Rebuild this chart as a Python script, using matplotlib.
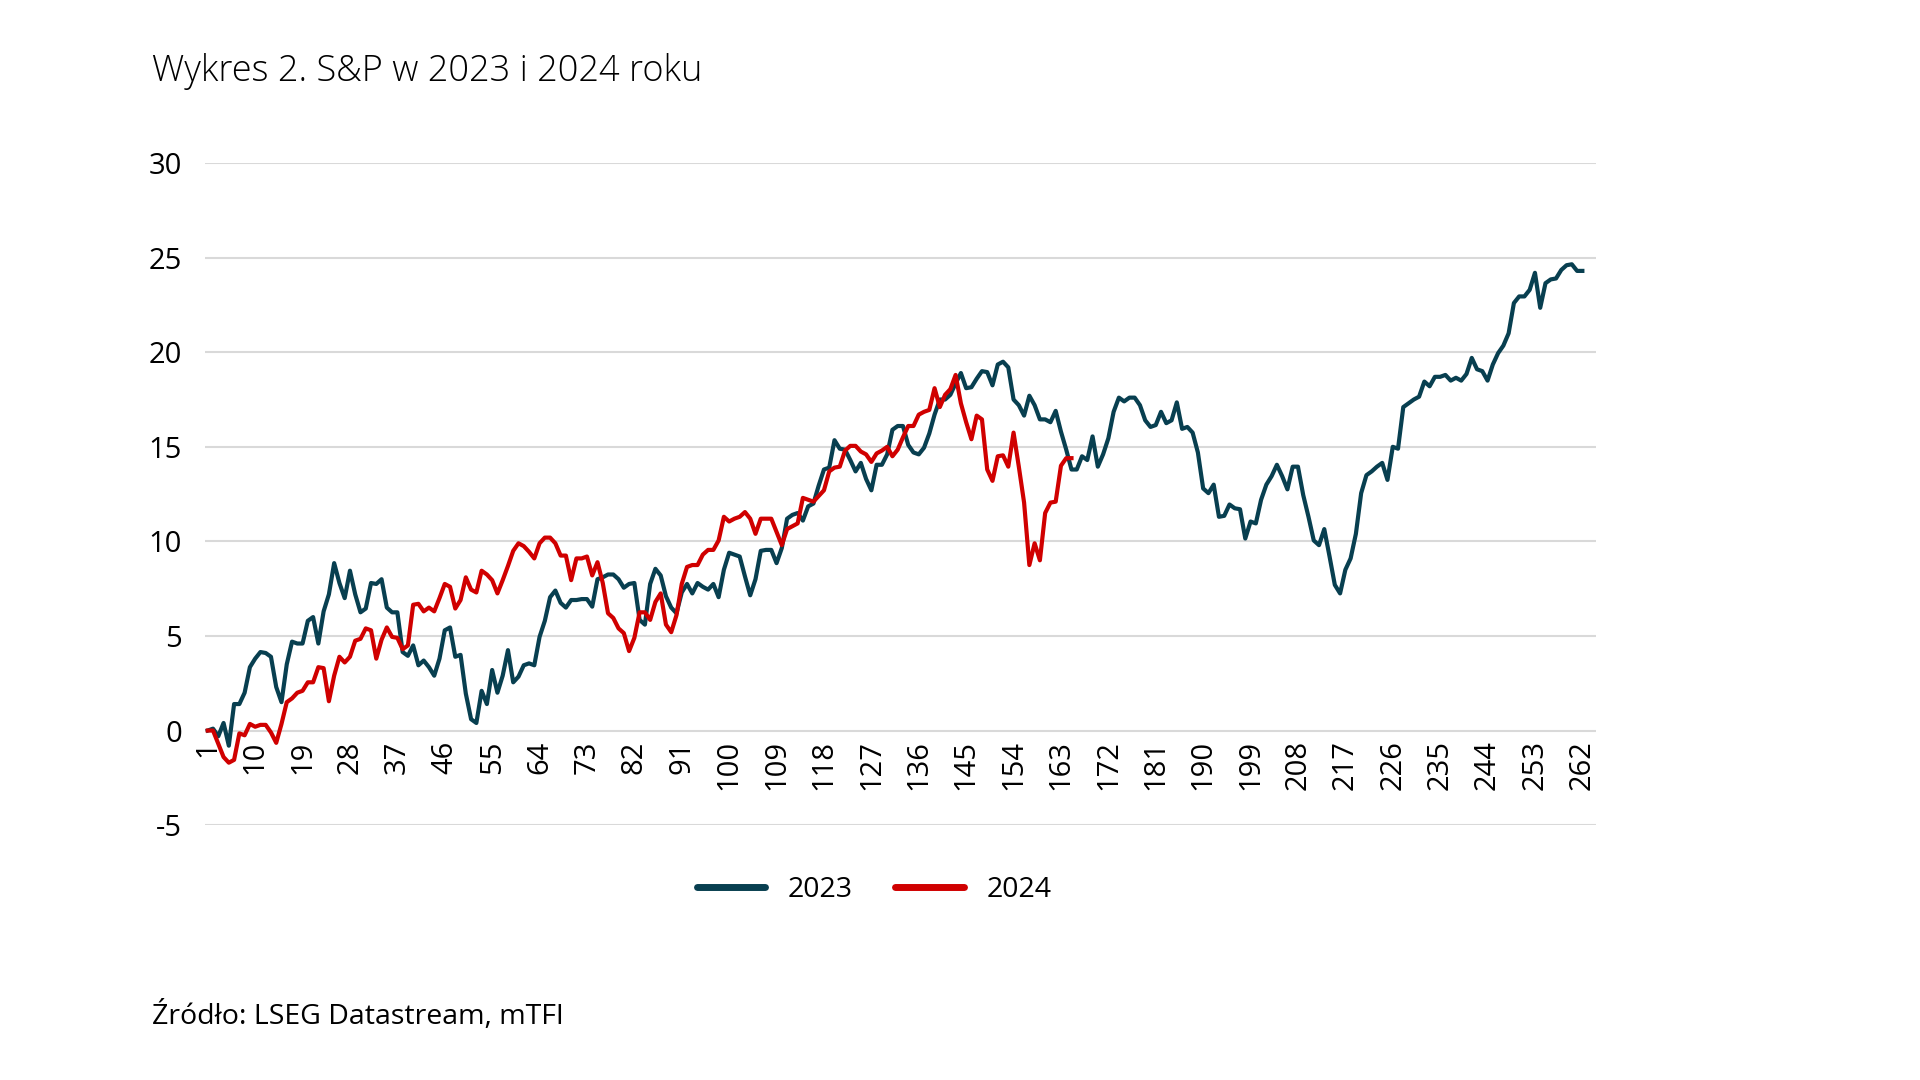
import matplotlib
matplotlib.use("Agg")
import matplotlib.pyplot as plt

# S&P cumulative change (%) by trading session
sp_2023 = [
    0.0, 0.1, -0.3, 0.4, -0.8, 1.4, 1.4, 2.0, 3.35, 3.8,
    4.15, 4.1, 3.9, 2.3, 1.5, 3.5, 4.7, 4.6, 4.6, 5.8,
    6.0, 4.6, 6.3, 7.2, 8.85, 7.8, 7.0, 8.45, 7.2, 6.25,
    6.45, 7.8, 7.75, 8.0, 6.5, 6.25, 6.25, 4.15, 3.95, 4.5,
    3.45, 3.7, 3.35, 2.9, 3.8, 5.3, 5.45, 3.9, 4.0, 1.95,
    0.6, 0.4, 2.1, 1.4, 3.2, 2.0, 2.9, 4.25, 2.55, 2.85,
    3.45, 3.55, 3.45, 4.95, 5.8, 7.05, 7.4, 6.75, 6.5, 6.9,
    6.9, 6.95, 6.95, 6.55, 8.0, 8.1, 8.25, 8.25, 8.0, 7.55,
    7.75, 7.8, 5.85, 5.6, 7.75, 8.55, 8.2, 7.1, 6.5, 6.2,
    7.3, 7.75, 7.25, 7.8, 7.6, 7.45, 7.75, 7.05, 8.5, 9.4,
    9.3, 9.2, 8.15, 7.15, 8.0, 9.5, 9.55, 9.55, 8.85, 9.65,
    11.2, 11.4, 11.5, 11.1, 11.85, 12.0, 12.95, 13.8, 13.9, 15.35,
    14.9, 14.85, 14.3, 13.7, 14.15, 13.3, 12.7, 14.05, 14.05, 14.6,
    15.9, 16.1, 16.1, 15.1, 14.7, 14.6, 14.95, 15.7, 16.7, 17.5,
    17.5, 17.75, 18.35, 18.9, 18.1, 18.15, 18.6, 19.0, 18.95, 18.25,
    19.35, 19.5, 19.2, 17.5, 17.2, 16.65, 17.7, 17.2, 16.45, 16.45,
    16.3, 16.9, 15.8, 14.85, 13.8, 13.8, 14.5, 14.3, 15.55, 13.95,
    14.6, 15.45, 16.85, 17.6, 17.4, 17.6, 17.6, 17.2, 16.4, 16.05,
    16.15, 16.85, 16.25, 16.4, 17.35, 15.95, 16.05, 15.75, 14.7, 12.8,
    12.55, 13.0, 11.3, 11.35, 11.95, 11.75, 11.7, 10.15, 11.05, 10.95,
    12.2, 13.0, 13.45, 14.05, 13.45, 12.75, 13.95, 13.95, 12.45, 11.3,
    10.05, 9.8, 10.65, 9.2, 7.7, 7.25, 8.5, 9.1, 10.4, 12.55,
    13.5, 13.7, 13.95, 14.15, 13.25, 15.0, 14.9, 17.1, 17.3, 17.5,
    17.65, 18.45, 18.2, 18.7, 18.7, 18.8, 18.5, 18.65, 18.5, 18.85,
    19.7, 19.1, 19.0, 18.5, 19.35, 19.95, 20.35, 21.0, 22.6, 22.95,
    22.95, 23.3, 24.2, 22.35, 23.65, 23.85, 23.9, 24.35, 24.6, 24.65,
    24.3, 24.3,
]

sp_2024 = [
    0.0, 0.0, -0.7, -1.4, -1.7, -1.55, -0.15, -0.25, 0.35, 0.2,
    0.3, 0.3, -0.1, -0.65, 0.35, 1.5, 1.7, 2.0, 2.1, 2.55,
    2.55, 3.35, 3.3, 1.55, 2.9, 3.9, 3.6, 3.9, 4.75, 4.85,
    5.4, 5.3, 3.8, 4.8, 5.45, 4.95, 4.9, 4.3, 4.5, 6.65,
    6.7, 6.3, 6.5, 6.3, 7.0, 7.75, 7.6, 6.45, 6.9, 8.1,
    7.45, 7.3, 8.45, 8.25, 7.95, 7.25, 7.95, 8.7, 9.5, 9.9,
    9.75, 9.45, 9.1, 9.9, 10.2, 10.2, 9.9, 9.25, 9.25, 7.95,
    9.1, 9.1, 9.2, 8.2, 8.9, 7.8, 6.2, 5.95, 5.4, 5.15,
    4.2, 4.9, 6.25, 6.25, 5.85, 6.8, 7.25, 5.6, 5.2, 6.1,
    7.75, 8.65, 8.75, 8.75, 9.3, 9.55, 9.55, 10.05, 11.3, 11.05,
    11.2, 11.3, 11.55, 11.2, 10.4, 11.2, 11.2, 11.2, 10.5, 9.8,
    10.65, 10.8, 10.95, 12.3, 12.2, 12.1, 12.4, 12.7, 13.7, 13.9,
    13.95, 14.8, 15.05, 15.05, 14.75, 14.6, 14.2, 14.65, 14.8, 15.0,
    14.5, 14.85, 15.5, 16.1, 16.1, 16.7, 16.85, 16.95, 18.1, 17.1,
    17.75, 18.05, 18.8, 17.3, 16.3, 15.4, 16.65, 16.45, 13.8, 13.2,
    14.5, 14.55, 13.95, 15.75, 13.95, 12.05, 8.75, 9.9, 9.0, 11.5,
    12.05, 12.1, 14.0, 14.4, 14.4,
]

x_2023 = list(range(1, len(sp_2023) + 1))
x_2024 = list(range(1, len(sp_2024) + 1))
x_ticks = list(range(1, 263, 9))
y_ticks = [-5, 0, 5, 10, 15, 20, 25, 30]

BLUE = "#083f50"
RED = "#d00000"

plt.rcParams['font.family'] = ['Open Sans', 'DejaVu Sans']
plt.rcParams['axes.unicode_minus'] = False

fig = plt.figure(figsize=(19.2, 10.8), dpi=100)
ax = fig.add_axes([0.107, 0.236, 0.724, 0.613])

# category labels sit on the zero line (set before ticks, it resets them)
ax.spines['bottom'].set_position(('data', 0))
for s in ax.spines.values():
    s.set_visible(False)

ax.plot(x_2023, sp_2023, color=BLUE, linewidth=3.0, label='2023', zorder=3)
ax.plot(x_2024, sp_2024, color=RED, linewidth=3.0, label='2024', zorder=4)

ax.set_xlim(0.56, 264.5)
ax.set_ylim(-5, 30)
ax.set_yticks(y_ticks)
ax.set_xticks(x_ticks)
ax.set_xticklabels([str(t) for t in x_ticks], rotation=90)
ax.tick_params(axis='y', length=0, pad=17, labelsize=21)
ax.tick_params(axis='x', length=0, pad=7, labelsize=21)

ax.grid(axis='y', color='#d9d9d9', linewidth=1.5)
ax.set_axisbelow(True)

leg = ax.legend(loc='center', bbox_to_anchor=(0.481, -0.098), ncol=2, frameon=False,
                fontsize=20.5, handlelength=2.4, columnspacing=1.5, handletextpad=0.8)
for line in leg.get_lines():
    line.set_linewidth(5)
    line.set_solid_capstyle('round')

fig.text(0.079, 0.934, 'Wykres 2. S&P w 2023 i 2024 roku', fontsize=26, fontweight='light',
         va='center', ha='left')
fig.text(0.079, 0.059, 'Źródło: LSEG Datastream, mTFI', fontsize=20.5, va='center', ha='left')

fig.savefig('out.png', dpi=100, facecolor='white')
